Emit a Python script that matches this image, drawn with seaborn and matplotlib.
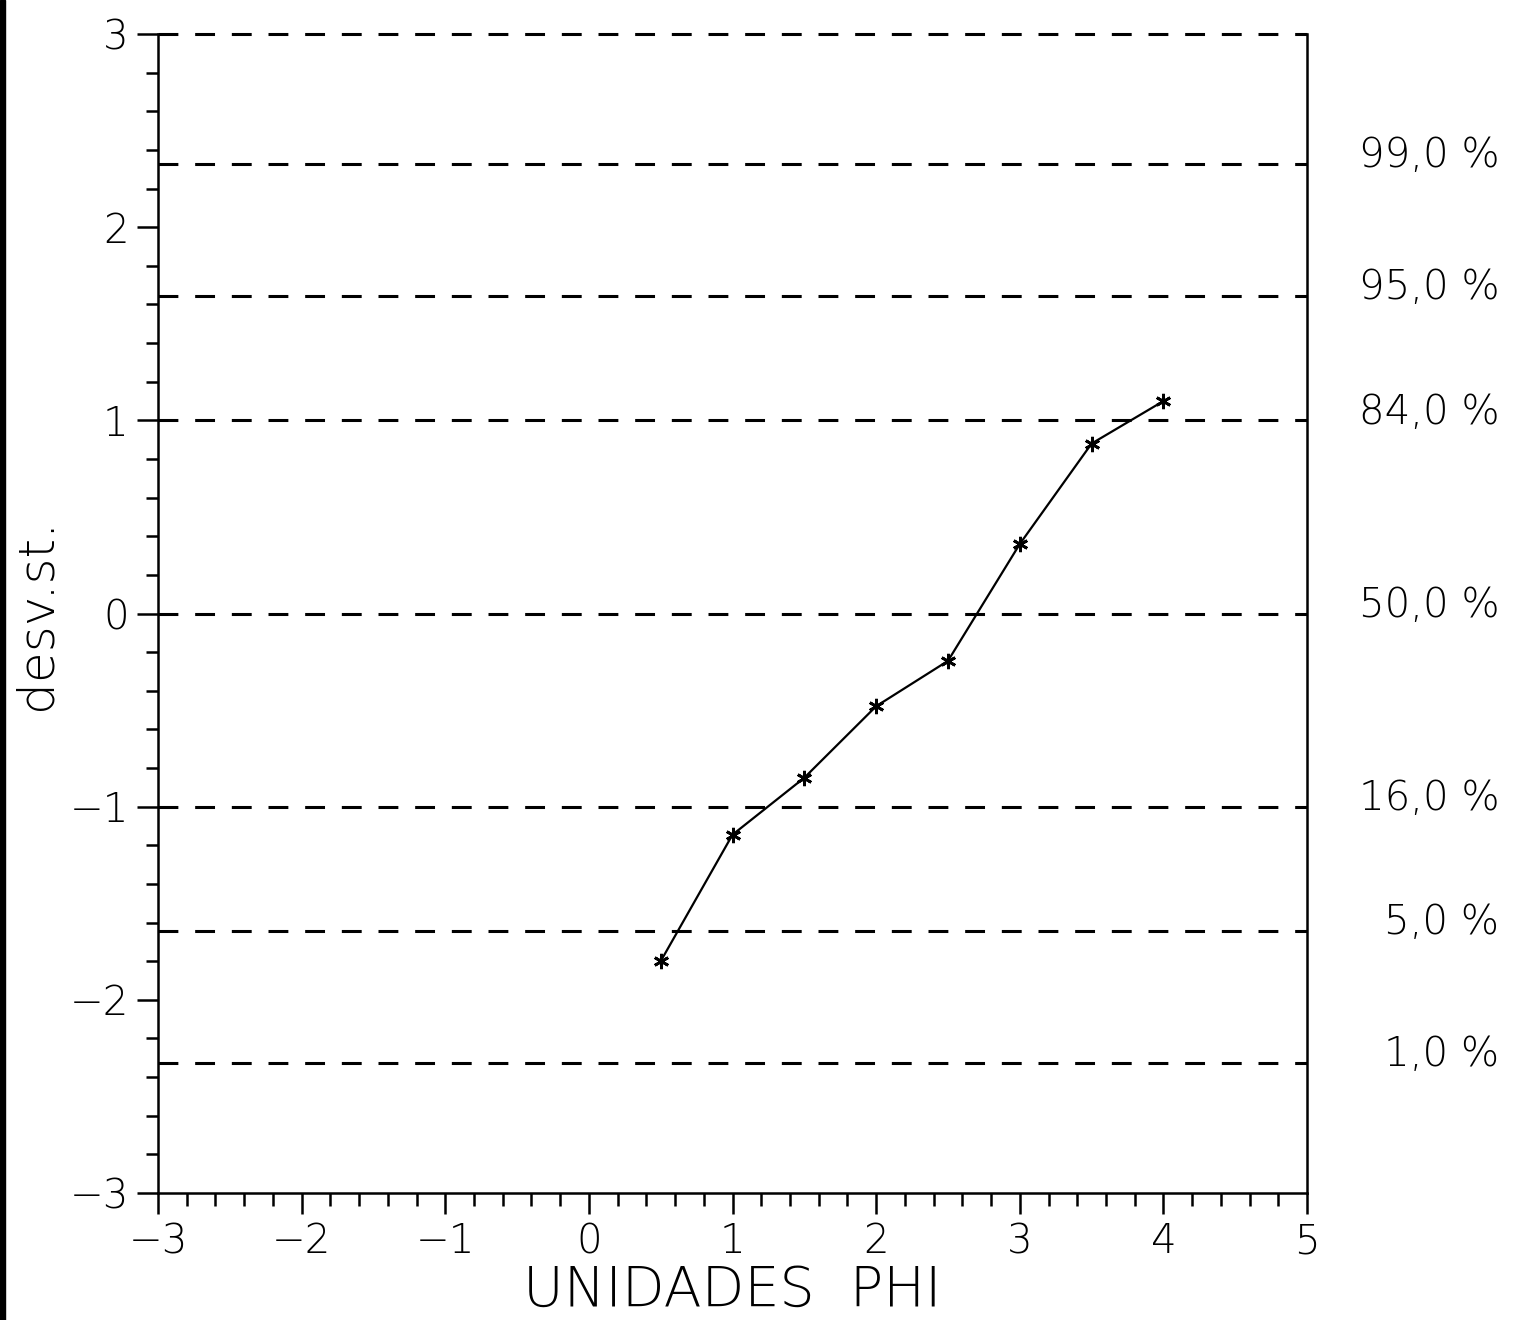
import numpy as np
import pandas as pd
import matplotlib
matplotlib.use('Agg')
import matplotlib.pyplot as plt
from matplotlib.patches import Rectangle
from matplotlib.ticker import MultipleLocator
import seaborn as sns

# cumulative curve in phi units vs standard deviations
phi = [0.5, 1.0, 1.5, 2.0, 2.5, 3.0, 3.5, 4.0]
desv = [-1.80, -1.145, -0.85, -0.48, -0.245, 0.36, 0.88, 1.10]

# reference percentiles and their z values
pct_labels = ['99,0 %', '95,0 %', '84,0 %', '50,0 %', '16,0 %', '5,0 %', '1,0 %']
pct_z = [2.326, 1.645, 1.0, 0.0, -1.0, -1.645, -2.326]

x_ticks = [-3, -2, -1, 0, 1, 2, 3, 4, 5]
y_ticks = [-3, -2, -1, 0, 1, 2, 3]

sns.set_style('ticks')
plt.rcParams['font.family'] = ['DejaVu Sans']
plt.rcParams['font.weight'] = 'light'
plt.rcParams['axes.labelweight'] = 'light'
plt.rcParams['text.color'] = 'black'
plt.rcParams['axes.labelcolor'] = 'black'
plt.rcParams['xtick.color'] = 'black'
plt.rcParams['ytick.color'] = 'black'

fig = plt.figure(figsize=(15.13, 13.2), dpi=100)
ax = fig.add_axes([0.1044, 0.0962, 0.7595, 0.878])

df = pd.DataFrame({'phi': phi, 'desv': desv})

# dashed reference lines (including the top one at 3)
for z in pct_z + [3.0]:
    ax.axhline(z, color='black', lw=2.2, linestyle=(0, (6.5, 5.5)),
               zorder=1, clip_on=False)

sns.lineplot(data=df, x='phi', y='desv', ax=ax, color='black', lw=1.6,
             marker=(6, 2, 0), markersize=11, markeredgewidth=2,
             markeredgecolor='black', zorder=3)

ax.set_xlim(-3, 5)
ax.set_ylim(-3, 3)
ax.set_xticks(x_ticks)
ax.set_yticks(y_ticks)
ax.set_xticklabels([f'\u2212{abs(v)}' if v < 0 else str(v) for v in x_ticks])
ax.set_yticklabels([f'\u2212{abs(v)}' if v < 0 else str(v) for v in y_ticks])
ax.xaxis.set_minor_locator(MultipleLocator(0.2))
ax.yaxis.set_minor_locator(MultipleLocator(0.2))
ax.tick_params(which='major', length=15, width=1.8, labelsize=29, pad=6)
ax.tick_params(which='minor', length=9, width=1.8)
ax.tick_params(axis='both', direction='out')

for side in ['left', 'bottom', 'right']:
    ax.spines[side].set_linewidth(1.8)
    ax.spines[side].set_color('black')
ax.spines['top'].set_visible(False)

ax.set_xlabel('UNIDADES  PHI', fontsize=40, labelpad=2, fontweight='light')
ax.set_ylabel('desv.st.', fontsize=36, labelpad=6, fontweight='light')

# percent labels on the right margin
for lab, z in zip(pct_labels, pct_z):
    ax.annotate(lab, xy=(0.991, z), xycoords=('figure fraction', 'data'),
                xytext=(0, 6), textcoords='offset points',
                ha='right', va='center', fontsize=29, annotation_clip=False)

# dark scan edge along the left border
fig.patches.append(Rectangle((0, 0), 0.0035, 1, transform=fig.transFigure,
                             color='black', zorder=0))

fig.savefig('out.png', dpi=100)
